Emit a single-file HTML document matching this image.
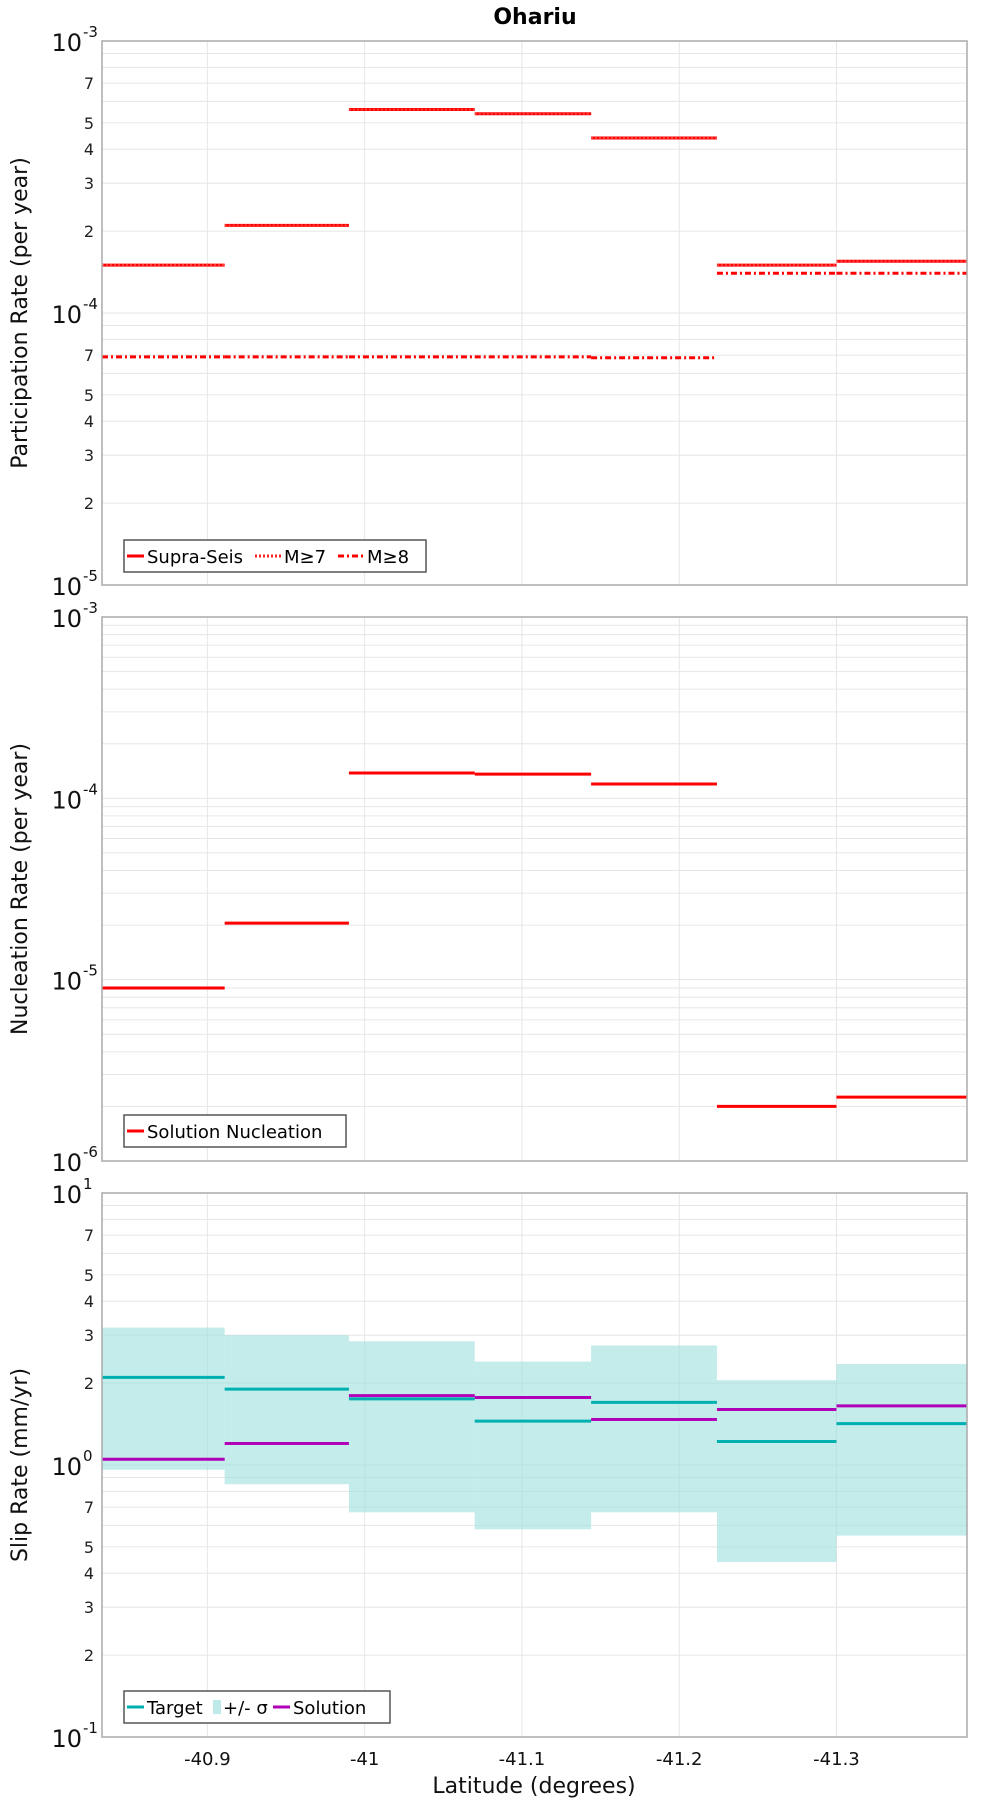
<!DOCTYPE html>
<html><head><meta charset="utf-8"><style>
html,body{margin:0;padding:0;background:#fff;}
svg{display:block;font-family:"DejaVu Sans","Liberation Sans",sans-serif;}
</style></head><body>
<svg id="chart" width="1000" height="1800" viewBox="0 0 1000 1800" xmlns="http://www.w3.org/2000/svg">
<text x="535" y="24" text-anchor="middle" font-size="22" font-weight="bold">Ohariu</text>
</svg>
<script>
// ---- data ----
const segEdges = [-40.833, -40.911, -40.990, -41.070, -41.144, -41.224, -41.300, -41.383];
const xTicks = [-40.9, -41, -41.1, -41.2, -41.3];
const xTickLabels = ["-40.9", "-41", "-41.1", "-41.2", "-41.3"];
const supraSeis = [1.5e-4, 2.1e-4, 5.6e-4, 5.4e-4, 4.4e-4, 1.5e-4, 1.55e-4];
const mGe7 = [1.5e-4, 2.1e-4, 5.6e-4, 5.4e-4, 4.4e-4, 1.5e-4, 1.55e-4];
const mGe8 = [6.9e-5, 6.9e-5, 6.9e-5, 6.9e-5, 6.85e-5, 1.4e-4, 1.4e-4];
const nucleation = [9e-6, 2.05e-5, 1.38e-4, 1.36e-4, 1.2e-4, 2.0e-6, 2.25e-6];
const slipTarget = [2.1, 1.9, 1.75, 1.45, 1.7, 1.22, 1.42];
const slipSolution = [1.05, 1.2, 1.8, 1.77, 1.47, 1.6, 1.65];
const slipUpper = [3.2, 3.0, 2.85, 2.4, 2.75, 2.05, 2.35];
const slipLower = [0.96, 0.85, 0.67, 0.58, 0.67, 0.44, 0.55];

const NS = "http://www.w3.org/2000/svg";
const svg = document.getElementById("chart");
const L = 102, R = 967;
const X0 = -40.833, X1 = -41.383;
function xs(v){ return L + (v - X0) / (X1 - X0) * (R - L); }
function mk(tag, attrs, parent){
  const e = document.createElementNS(NS, tag);
  for (const k in attrs) e.setAttribute(k, attrs[k]);
  (parent || svg).appendChild(e);
  return e;
}
function makeY(top, bot, e0, e1){
  return v => bot - (Math.log10(v) - e0) / (e1 - e0) * (bot - top);
}

function panel(name, top, bot, e0, e1, title, minorLabels){
  const g = mk("g", {});
  
  
  const ys = makeY(top, bot, e0, e1);
  for (let e = e0; e < e1; e++){
    for (let m = 1; m <= 9; m++){
      const v = m * Math.pow(10, e);
      const y = ys(v);
      const gl = mk("line", {x1: L, x2: R, y1: y, y2: y, stroke: "#e6e6e6", "stroke-width": 1}, g);
      
      
      if (m === 1 || !minorLabels) continue;
      if ([2,3,4,5,7].includes(m)){
        const t = mk("text", {x: L - 8, y: y + 6, "text-anchor": "end", "font-size": 16, fill: "#222"}, g);
        t.textContent = String(m);
        
        
      }
    }
  }
  for (let e = e0; e <= e1; e++){
    const y = ys(Math.pow(10, e));
    const t = mk("text", {x: L - 20, y: y + 10, "text-anchor": "end", "font-size": 24, fill: "#111"}, g);
    t.textContent = "10";
    
    
    const s = mk("text", {x: L - 19, y: y - 4, "text-anchor": "start", "font-size": 15, fill: "#111"}, g);
    s.textContent = String(e);
    
    
  }
  xTicks.forEach(v => {
    const x = xs(v);
    const gl = mk("line", {x1: x, x2: x, y1: top, y2: bot, stroke: "#e6e6e6", "stroke-width": 1}, g);
    
    
  });
  const t = mk("text", {transform: `translate(27 ${(top+bot)/2}) rotate(-90)`, "text-anchor": "middle", "font-size": 22, fill: "#111"}, g);
  t.textContent = title;
  
  
  return {g, ys, top, bot};
}
function border(p){
  const b = mk("rect", {x: L, y: p.top, width: R - L, height: p.bot - p.top, fill: "none", stroke: "#aaa", "stroke-width": 1.5}, p.g);
  
  
}
function steps(p, vals, color, width, dash, name){
  vals.forEach((v, i) => {
    const y = p.ys(v);
    const l = mk("line", {x1: xs(segEdges[i]), x2: xs(segEdges[i+1]), y1: y, y2: y, stroke: color, "stroke-width": width}, p.g);
    if (dash) l.setAttribute("stroke-dasharray", dash);
    
    
  });
}
function legend(p, x, y, w, items){
  const g = mk("g", {}, p.g);
  
  
  const r = mk("rect", {x: x, y: y, width: w, height: 32, fill: "#fff", stroke: "#555", "stroke-width": 1.5}, g);
  
  
  let cx = x + 3;
  items.forEach(it => {
    let sw;
    if (it.rect){
      sw = mk("rect", {x: cx + 2, y: y + 9, width: 8, height: 14, fill: it.color}, g);
      cx += 12;
    } else {
      sw = mk("line", {x1: cx, x2: cx + it.len, y1: y + 16, y2: y + 16, stroke: it.color, "stroke-width": 3}, g);
      if (it.dash) sw.setAttribute("stroke-dasharray", it.dash);
      cx += it.len + 3;
    }
    
    
    const t = mk("text", {x: cx, y: y + 23, "font-size": 18, fill: "#000"}, g);
    t.textContent = it.label;
    
    
    cx += it.tw + 4;
  });
}

// Panel 1
const p1 = panel("participation", 41, 585, -5, -3, "Participation Rate (per year)", true);
steps(p1, supraSeis, "#ff0000", 3, null, "supra-seis-step");
steps(p1, mGe7, "#ff4040", 2, "2 2", "m7-step");
steps(p1, mGe8, "#ff0000", 3, "6 3 2 3", "m8-step");
border(p1);
legend(p1, 124, 540, 302, [
  {label: "Supra-Seis", color: "#ff0000", len: 17, tw: 104},
  {label: "M≥7", color: "#ff2020", len: 26, dash: "2 2", tw: 50},
  {label: "M≥8", color: "#ff0000", len: 26, dash: "6 3 2 3", tw: 50}
]);

// Panel 2
const p2 = panel("nucleation", 617, 1161, -6, -3, "Nucleation Rate (per year)", false);
steps(p2, nucleation, "#ff0000", 3, null, "nucleation-step");
border(p2);
legend(p2, 124, 1115, 222, [
  {label: "Solution Nucleation", color: "#ff0000", len: 17, tw: 190}
]);

// Panel 3
const p3 = panel("slip", 1193, 1737, -1, 1, "Slip Rate (mm/yr)", true);
slipUpper.forEach((u, i) => {
  const x1 = xs(segEdges[i]), x2 = xs(segEdges[i+1]);
  const yt = p3.ys(u), yb = p3.ys(slipLower[i]);
  const r = mk("rect", {x: x1, y: yt, width: x2 - x1, height: yb - yt, fill: "#9ee0dd", "fill-opacity": 0.62}, p3.g);
  
  
});
steps(p3, slipTarget, "#00b0b0", 3, null, "target-step");
steps(p3, slipSolution, "#b000b8", 3, null, "solution-step");
border(p3);
legend(p3, 124, 1691, 266, [
  {label: "Target", color: "#00b0b0", len: 17, tw: 60},
  {label: "+/- σ", color: "#bfeaea", rect: true, tw: 46},
  {label: "Solution", color: "#b000b8", len: 17, tw: 80}
]);

xTicks.forEach((v, i) => {
  const t = mk("text", {x: xs(v), y: 1765, "text-anchor": "middle", "font-size": 18, fill: "#111"});
  t.textContent = xTickLabels[i];
  
  
});
const xt = mk("text", {x: 534, y: 1793, "text-anchor": "middle", "font-size": 22, fill: "#111"});
xt.textContent = "Latitude (degrees)";


</script>
</body></html>
